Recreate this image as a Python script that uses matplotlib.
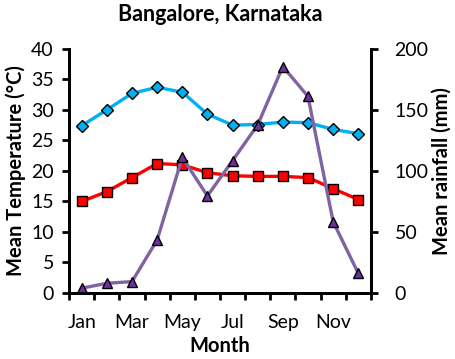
import numpy as np
import matplotlib.pyplot as plt

plt.rcParams['font.family'] = ['Lato', 'DejaVu Sans']

meses = ['Jan', 'Feb', 'Mar', 'Apr', 'May', 'Jun', 'Jul', 'Aug', 'Sep', 'Oct', 'Nov', 'Dec']
temp_max = [27.4, 30.0, 32.7, 33.7, 32.9, 29.3, 27.5, 27.6, 28.0, 27.9, 26.8, 26.1]
temp_min = [15.0, 16.6, 18.9, 21.2, 21.0, 19.7, 19.2, 19.1, 19.1, 18.9, 17.1, 15.3]
lluvia = [3.9, 7.9, 9.3, 43.4, 111.0, 79.5, 108.4, 137.7, 185.5, 161.0, 58.4, 16.1]

x = np.arange(1, 13)

fig = plt.figure(figsize=(4.55, 3.59), dpi=100)
ax = fig.add_axes([0.152, 0.184, 0.663, 0.68])
ax2 = ax.twinx()

ax.plot(x, temp_max, color='#00B0F0', lw=2.4, marker='D', ms=6,
        mfc='#00B0F0', mec='black', mew=1.0)
ax.plot(x, temp_min, color='#FF0000', lw=2.4, marker='s', ms=7.5,
        mfc='#FF0000', mec='black', mew=1.0)
ax2.plot(x, lluvia, color='#8064A2', lw=2.4, marker='^', ms=7.5,
         mfc='#7030A0', mec='black', mew=1.0)

ax.set_xlim(0.5, 12.5)
ax.set_ylim(0, 40)
ax2.set_ylim(0, 200)
ax.set_yticks(np.arange(0, 41, 5))
ax2.set_yticks(np.arange(0, 201, 50))

ax.set_xticks(np.arange(0.5, 12.6, 1))
ax.set_xticklabels([])
ax.set_xticks(x[::2], minor=True)
ax.set_xticklabels(meses[::2], minor=True)
ax.tick_params(axis='x', which='minor', length=0, pad=15, labelsize=14)
ax.tick_params(axis='x', which='major', length=5, width=2)

for a in (ax, ax2):
    a.spines['top'].set_visible(False)
    for s in ('left', 'right', 'bottom'):
        a.spines[s].set_linewidth(2)
    a.tick_params(axis='y', labelsize=14, length=5, width=2)
ax.tick_params(axis='y', pad=6)
ax2.tick_params(axis='y', pad=12)

ax.set_xlabel('Month', fontsize=14.5, fontweight='bold', labelpad=4)
ax.set_ylabel('Mean Temperature (°C)', fontsize=14.5, fontweight='bold', labelpad=4)
ax2.set_ylabel('Mean rainfall (mm)', fontsize=14.5, fontweight='bold', labelpad=2)
ax.set_title('Bangalore, Karnataka', fontsize=15.5, fontweight='bold', pad=20)

fig.savefig('out.png', dpi=100)
